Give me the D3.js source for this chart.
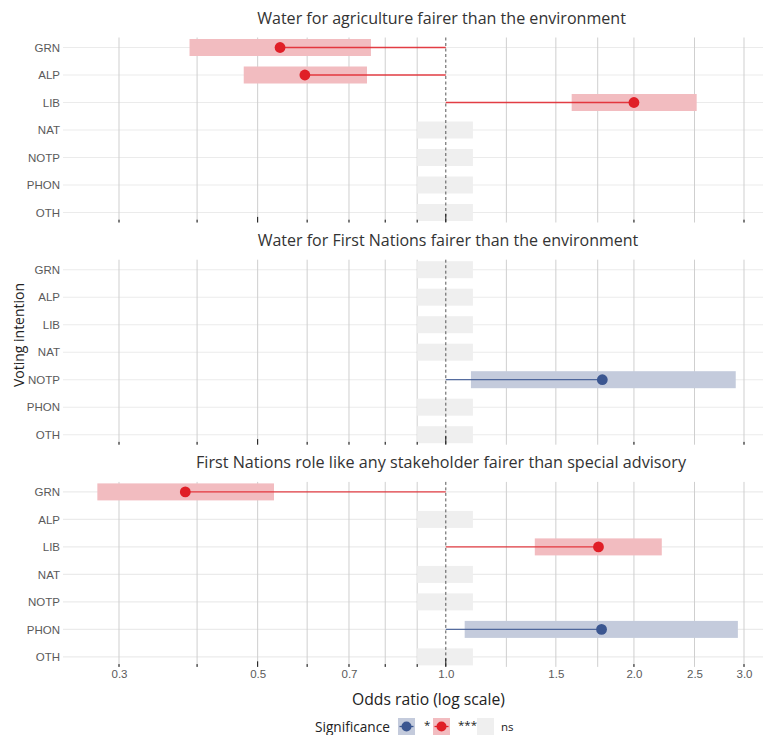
<!DOCTYPE html>
<html>
<head>
<meta charset="utf-8">
<script src="https://cdn.jsdelivr.net/npm/d3@7"></script>
<style>
  html, body { margin: 0; padding: 0; background: #ffffff; }
  svg { display: block; }
</style>
</head>
<body>
<svg id="chart" width="763" height="735"></svg>
<script>
// ---------------- DATA ----------------
const categories = ["GRN", "ALP", "LIB", "NAT", "NOTP", "PHON", "OTH"];
const panelTitles = [
  "Water for agriculture fairer than the environment",
  "Water for First Nations fairer than the environment",
  "First Nations role like any stakeholder fairer than special advisory"
];
// Panel 1: Water for agriculture fairer than the environment
const p1Estimate = [0.543, 0.595, 2.00, null, null, null, null];
const p1Low      = [0.389, 0.475, 1.59, null, null, null, null];
const p1High     = [0.759, 0.748, 2.52, null, null, null, null];
const p1Sig      = ["***", "***", "***", "ns", "ns", "ns", "ns"];
// Panel 2: Water for First Nations fairer than the environment
const p2Estimate = [null, null, null, null, 1.78, null, null];
const p2Low      = [null, null, null, null, 1.097, null, null];
const p2High     = [null, null, null, null, 2.91, null, null];
const p2Sig      = ["ns", "ns", "ns", "ns", "*", "ns", "ns"];
// Panel 3: First Nations role like any stakeholder fairer than special advisory
const p3Estimate = [0.383, null, 1.755, null, null, 1.775, null];
const p3Low      = [0.277, null, 1.388, null, null, 1.072, null];
const p3High     = [0.531, null, 2.216, null, null, 2.933, null];
const p3Sig      = ["***", "ns", "***", "ns", "ns", "*", "ns"];
// placeholder band for non-significant rows
const nsBand = [0.9, 1.105];
// axis breaks
const xTickLabels = [0.3, 0.5, 0.7, 1.0, 1.5, 2.0, 2.5, 3.0];
const xMinorGrid  = [0.4, 0.6, 0.8, 0.9, 1.25, 1.75];
const logTickShort = [0.3, 0.4, 0.6, 0.7, 0.8, 0.9, 2, 3];
const logTickMid   = [0.5];
const logTickLong  = [1.0];
const sigLevels = ["*", "***", "ns"];

// ---------------- STYLE ----------------
const sigColor = { "*": "#3b5690", "***": "#e01f27" };
const sigFill  = { "*": "#c4cbdc", "***": "#f2bcc0", "ns": "#efefef" };
const titleFont = "'Open Sans', 'DejaVu Sans', sans-serif";
const tickFont = "'Liberation Sans', Arial, sans-serif";

const panels = [
  { title: panelTitles[0], est: p1Estimate, lo: p1Low, hi: p1High, sig: p1Sig },
  { title: panelTitles[1], est: p2Estimate, lo: p2Low, hi: p2High, sig: p2Sig },
  { title: panelTitles[2], est: p3Estimate, lo: p3Low, hi: p3High, sig: p3Sig }
];

const svg = d3.select("#chart");
const plotLeft = 63, plotRight = 763;
const panelTops = [37.5, 259.7, 481.9];
const panelH = 185, rowPad = 10, barH = 17;
const titleCenters = [441.5, 448, 441];

const x = d3.scaleLog().domain([0.3, 3]).range([119, 744]);

function fitText(sel, target) {
  const node = sel.node();
  const w = node.getComputedTextLength();
  const fs = parseFloat(sel.attr("font-size"));
  if (w > 0) sel.attr("font-size", (fs * target / w).toFixed(2));
}

panels.forEach((p, pi) => {
  const top = panelTops[pi];
  const bottom = top + panelH;
  const y = d3.scalePoint().domain(categories).range([top + rowPad, bottom - rowPad]);
  const g = svg.append("g");

  // horizontal grid
  g.selectAll("line.hg").data(categories).join("line")
    .attr("x1", plotLeft).attr("x2", plotRight)
    .attr("y1", d => y(d)).attr("y2", d => y(d))
    .attr("stroke", "#ebebeb").attr("stroke-width", 1.1);

  // vertical grid (major + minor)
  const grid = xTickLabels.filter(v => v !== 1).concat(xMinorGrid);
  g.selectAll("line.vg").data(grid).join("line")
    .attr("x1", d => x(d)).attr("x2", d => x(d))
    .attr("y1", top).attr("y2", bottom)
    .attr("stroke", "#cfcfcf").attr("stroke-width", 1);

  const rows = categories.map((c, i) => ({
    cat: c, est: p.est[i], lo: p.lo[i], hi: p.hi[i], sig: p.sig[i]
  }));

  // ns bands
  g.selectAll("rect.ns").data(rows.filter(r => r.sig === "ns")).join("rect")
    .attr("x", x(nsBand[0])).attr("width", x(nsBand[1]) - x(nsBand[0]))
    .attr("y", d => y(d.cat) - barH / 2).attr("height", barH)
    .attr("fill", sigFill.ns);

  // CI bands
  const sigRows = rows.filter(r => r.sig !== "ns");
  g.selectAll("rect.ci").data(sigRows).join("rect")
    .attr("x", d => x(d.lo)).attr("width", d => x(d.hi) - x(d.lo))
    .attr("y", d => y(d.cat) - barH / 2).attr("height", barH)
    .attr("fill", d => sigFill[d.sig]);

  // reference line at 1
  g.append("line")
    .attr("x1", x(1)).attr("x2", x(1)).attr("y1", top).attr("y2", bottom)
    .attr("stroke", "#444").attr("stroke-width", 0.9).attr("stroke-dasharray", "3,2.5");

  // log ticks at panel bottom
  const ticks = [];
  logTickShort.forEach(v => ticks.push({ v, len: 2.8 }));
  logTickMid.forEach(v => ticks.push({ v, len: 5.6 }));
  logTickLong.forEach(v => ticks.push({ v, len: 8.5 }));
  g.selectAll("line.lt").data(ticks).join("line")
    .attr("x1", d => x(d.v)).attr("x2", d => x(d.v))
    .attr("y1", bottom).attr("y2", d => bottom - d.len)
    .attr("stroke", "#111").attr("stroke-width", 1);

  // segments from 1 to estimate
  g.selectAll("line.seg").data(sigRows).join("line")
    .attr("x1", x(1)).attr("x2", d => x(d.est))
    .attr("y1", d => y(d.cat)).attr("y2", d => y(d.cat))
    .attr("stroke", d => sigColor[d.sig]).attr("stroke-width", 1.3)
    .attr("stroke-opacity", 0.85);

  // points
  g.selectAll("circle.pt").data(sigRows).join("circle")
    .attr("cx", d => x(d.est)).attr("cy", d => y(d.cat)).attr("r", 5.4)
    .attr("fill", d => sigColor[d.sig]);

  // y axis labels
  const yAxis = d3.axisLeft(y).tickSize(0).tickPadding(0);
  const ya = g.append("g").attr("transform", `translate(60,0)`).call(yAxis);
  ya.select(".domain").remove();
  ya.selectAll("text").attr("font-family", tickFont).attr("font-size", 11.5)
    .attr("fill", "#5a5a5a");

  // panel title
  const t = g.append("text")
    .attr("x", titleCenters[pi]).attr("y", top - 20)
    .attr("text-anchor", "middle").attr("dominant-baseline", "central")
    .attr("font-family", titleFont).attr("font-size", 15).attr("fill", "#333")
    .text(p.title);
  fitText(t, [369, 381, 490][pi]);
});

// x axis tick labels
const lastBottom = panelTops[2] + panelH;
const xAxis = d3.axisBottom(x).tickValues(xTickLabels).tickFormat(d3.format(".1f")).tickSize(0).tickPadding(0);
const xa = svg.append("g").attr("transform", `translate(0,${lastBottom + 3})`).call(xAxis);
xa.select(".domain").remove();
xa.selectAll("text").attr("font-family", tickFont).attr("font-size", 11.5)
  .attr("fill", "#5a5a5a");

// axis titles
const xt = svg.append("text").attr("x", 428.5).attr("y", 699)
  .attr("text-anchor", "middle").attr("dominant-baseline", "central")
  .attr("font-family", titleFont).attr("font-size", 14).attr("fill", "#222")
  .text("Odds ratio (log scale)");
fitText(xt, 153);

const yt = svg.append("text")
  .attr("transform", "translate(18,335) rotate(-90)")
  .attr("text-anchor", "middle").attr("dominant-baseline", "central")
  .attr("font-family", titleFont).attr("font-size", 14).attr("fill", "#222")
  .text("Voting intention");
fitText(yt, 104);

// legend
const lg = svg.append("g");
const ly = 726.5;
const lt = lg.append("text").attr("x", 315).attr("y", ly)
  .attr("dominant-baseline", "central")
  .attr("font-family", titleFont).attr("font-size", 11.5).attr("fill", "#222")
  .text("Significance");
fitText(lt, 75);
const keyX = [398, 433, 477];
const labX = [424, 458, 501];
sigLevels.forEach((s, i) => {
  lg.append("rect").attr("x", keyX[i]).attr("y", ly - 8.5).attr("width", 17).attr("height", 17)
    .attr("fill", sigFill[s]);
  if (s !== "ns") {
    lg.append("line").attr("x1", keyX[i] + 1.5).attr("x2", keyX[i] + 15.5)
      .attr("y1", ly).attr("y2", ly).attr("stroke", sigColor[s]).attr("stroke-width", 1.3);
    lg.append("circle").attr("cx", keyX[i] + 8.5).attr("cy", ly).attr("r", 5)
      .attr("fill", sigColor[s]);
  }
  lg.append("text").attr("x", labX[i]).attr("y", ly - (s === "ns" ? 0 : 2))
    .attr("dominant-baseline", "central")
    .attr("font-family", titleFont).attr("font-size", 11.5).attr("fill", "#222")
    .text(s);
});
</script>
</body>
</html>
